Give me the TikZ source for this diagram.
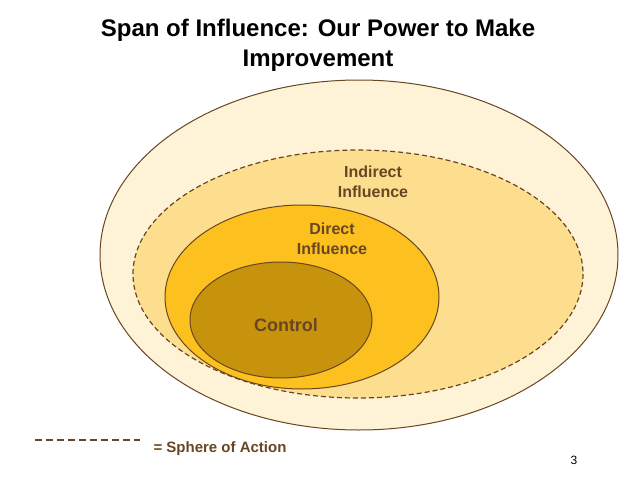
\documentclass[tikz,border=0pt]{standalone}
\usepackage{fontspec}
\setmainfont{Liberation Sans}
\begin{document}
\begin{tikzpicture}[x=1pt,y=-1pt,
  ring/.style={draw=brown!55!black,line width=1pt},
  lab/.style={text=brown!55!black,font=\bfseries\fontsize{16}{20}\selectfont,align=center}]
\definecolor{c1}{HTML}{FEF3D7}\definecolor{c2}{HTML}{FDDE8F}
\definecolor{c3}{HTML}{FDC11F}\definecolor{c4}{HTML}{C8930C}
\useasboundingbox (0,0) rectangle (638,479);
\node[font=\bfseries\fontsize{24}{30}\selectfont,align=center,yscale=1.0] (title) at (318,45) {Span of Influence: Our Power to Make\\Improvement};
\draw[ring,fill=c1] (359,255) ellipse [x radius=259,y radius=175];
\draw[ring,fill=c2,line width=1.2pt,dash pattern=on 5pt off 3pt] (358,274) ellipse [x radius=225,y radius=124];
\draw[ring,fill=c3] (302,297) ellipse [x radius=137,y radius=92];
\draw[ring,fill=c4] (281,320) ellipse [x radius=91,y radius=58];
\node[lab] (ind) at (373,182) {Indirect\\Influence};
\node[lab] (dir) at (332,239) {Direct\\Influence};
\node[lab,font=\bfseries\fontsize{18}{20}\selectfont] (ctl) at (286,325) {Control};
\coordinate (l1) at (35,440); \coordinate (l2) at (140,440);
\draw[brown!55!black,line width=1.2pt,dash pattern=on 7pt off 4pt] (l1) -- (l2);
\node[lab,font=\bfseries\fontsize{15}{18}\selectfont,anchor=west] (leg) at (150,449) {= Sphere of Action};
\node[font=\fontsize{12}{14}\selectfont] (pg) at (574,460) {3};
\end{tikzpicture}
\end{document}
